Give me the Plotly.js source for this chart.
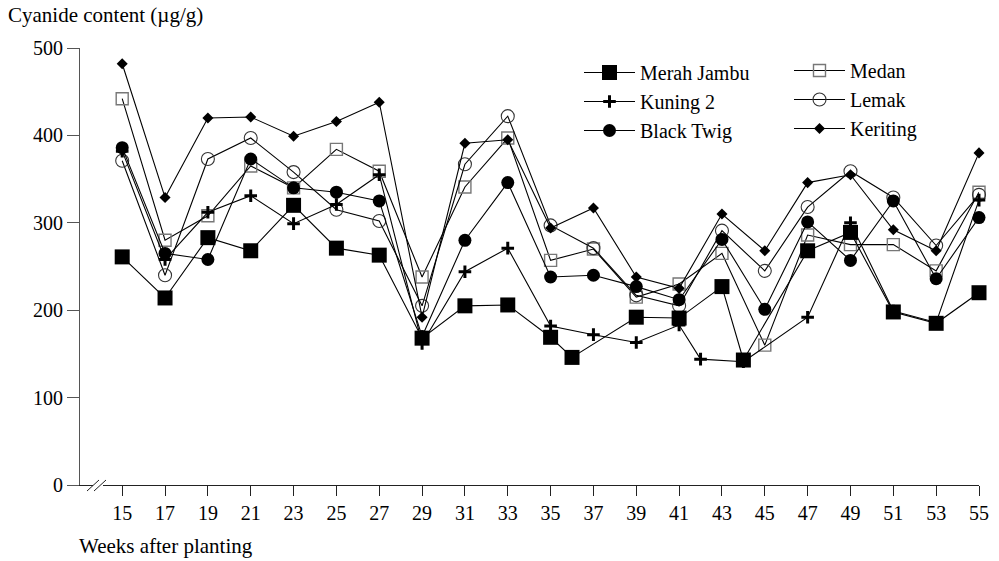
<!DOCTYPE html>
<html>
<head>
<meta charset="utf-8">
<script src="https://cdn.plot.ly/plotly-3.0.1.min.js"></script>
<style>html,body{margin:0;padding:0;background:#fff;}#chart{width:999px;height:561px;}</style>
</head>
<body>
<div id="chart"></div>
<script>
// ---- data ----
var weeks = [15,17,19,21,23,25,27,29,31,33,35,37,39,41,43,45,47,49,51,53,55];
var tickWeeks = [15,17,19,21,23,25,27,29,31,33,35,37,39,41,43,45,47,49,51,53,55];

var merahJambuWeeks = [15,17,19,21,23,25,27,29,31,33,35,36,39,41,43,44,47,49,51,53,55];
var merahJambu      = [261,214,283,268,320,271,263,168,205,206,169,146,192,191,227,143,268,289,198,185,220];

var kuning2Weeks = [15,17,19,21,23,25,27,29,31,33,35,37,39,41,42,44,47,49,51,53,55];
var kuning2      = [382,258,312,331,299,321,355,162,244,271,182,172,163,183,144,141,192,300,199,186,326];

var blackTwig = [386,265,258,373,340,335,325,170,280,346,238,240,227,212,281,201,301,257,325,236,306];
var medan     = [442,280,308,365,340,384,359,238,341,397,257,270,215,230,265,160,286,275,275,245,335];
var lemak     = [371,240,373,397,358,315,302,205,367,422,297,271,217,205,291,245,318,359,329,274,332];
var keriting  = [482,329,420,421,399,416,438,192,391,395,294,317,238,225,310,268,346,355,292,268,380];

var yTicks = [0,100,200,300,400,500];

// ---- styling ----
var FONT = '"Liberation Serif", "Times New Roman", serif';
var lineStyle = {color:'#000', width:1.1};

function tr(name, x, y, marker, legend, rank){
  return {type:'scatter', mode:'lines+markers', name:name, x:x, y:y,
          line:lineStyle, marker:marker, legend:legend, legendrank:rank,
          cliponaxis:false};
}

var traces = [
  tr('Medan', weeks, medan, {symbol:'square-open', size:12, color:'#777', line:{color:'#777', width:1.4}}, 'legend2', 1),
  tr('Lemak', weeks, lemak, {symbol:'circle-open', size:13, color:'#333', line:{color:'#333', width:1.1}}, 'legend2', 2),
  tr('Keriting', weeks, keriting, {symbol:'diamond', size:8.5, color:'#000', line:{width:0}}, 'legend2', 3),
  tr('Black Twig', weeks, blackTwig, {symbol:'circle', size:13, color:'#000', line:{width:0}}, 'legend', 3),
  tr('Kuning 2', kuning2Weeks, kuning2, {symbol:'cross-thin', size:9, color:'#000', line:{color:'#000', width:3}}, 'legend', 2),
  tr('Merah Jambu', merahJambuWeeks, merahJambu, {symbol:'square', size:15, color:'#000', line:{width:0}}, 'legend', 1)
];

// pixel helpers for decorations only (axis break)
var L=80, R=979, T=48, B=485;
function px(x){return (x-L)/(R-L);}
function py(y){return (B-y)/(B-T);}

var legendFont = {family:FONT, size:20, color:'#000'};

var layout = {
  width:999, height:561,
  margin:{l:L, r:999-R, t:T, b:561-B},
  paper_bgcolor:'#fff', plot_bgcolor:'#fff',
  font:{family:FONT, size:20, color:'#000'},
  showlegend:true,
  title:{text:'Cyanide content (µg/g)', font:{family:FONT, size:21, color:'#000'},
         x:8/999, xref:'container', xanchor:'left', y:1-15/561, yref:'container', yanchor:'middle'},
  xaxis:{range:[13.03,55], tickvals:tickWeeks, ticktext:tickWeeks.map(String),
         ticks:'outside', ticklen:10, tickwidth:1, tickcolor:'#222',
         showline:true, linecolor:'#222', linewidth:1, showgrid:false, zeroline:false,
         tickfont:{family:FONT, size:20, color:'#000'}},
  yaxis:{range:[0,500], tickvals:yTicks, ticks:'outside', ticklen:12, tickwidth:1, tickcolor:'#555',
         showline:true, linecolor:'#555', linewidth:1, showgrid:false, zeroline:false,
         tickfont:{family:FONT, size:20, color:'#000'}},
  legend:{x:px(579), y:py(53), xanchor:'left', yanchor:'top', bgcolor:'rgba(0,0,0,0)',
          itemwidth:51, font:legendFont, traceorder:'normal'},
  legend2:{x:px(789), y:py(51), xanchor:'left', yanchor:'top', bgcolor:'rgba(0,0,0,0)',
          itemwidth:51, font:legendFont, traceorder:'normal'},
  annotations:[
    {text:'Weeks after planting', xref:'paper', yref:'paper', x:px(77), y:py(546),
     xanchor:'left', yanchor:'middle', showarrow:false, font:{family:FONT, size:21, color:'#000'}}
  ],
  shapes:[
    {type:'rect', xref:'paper', yref:'paper', x0:px(93), x1:px(103), y0:py(487), y1:py(483),
     fillcolor:'#fff', line:{width:0}, layer:'above'},
    {type:'line', xref:'paper', yref:'paper', x0:px(87), y0:py(491), x1:px(99), y1:py(480),
     line:{color:'#222', width:1}, layer:'above'},
    {type:'line', xref:'paper', yref:'paper', x0:px(94), y0:py(491), x1:px(106), y1:py(480),
     line:{color:'#222', width:1}, layer:'above'}
  ]
};

Plotly.newPlot('chart', traces, layout, {displayModeBar:false, staticPlot:true});
</script>
</body>
</html>
